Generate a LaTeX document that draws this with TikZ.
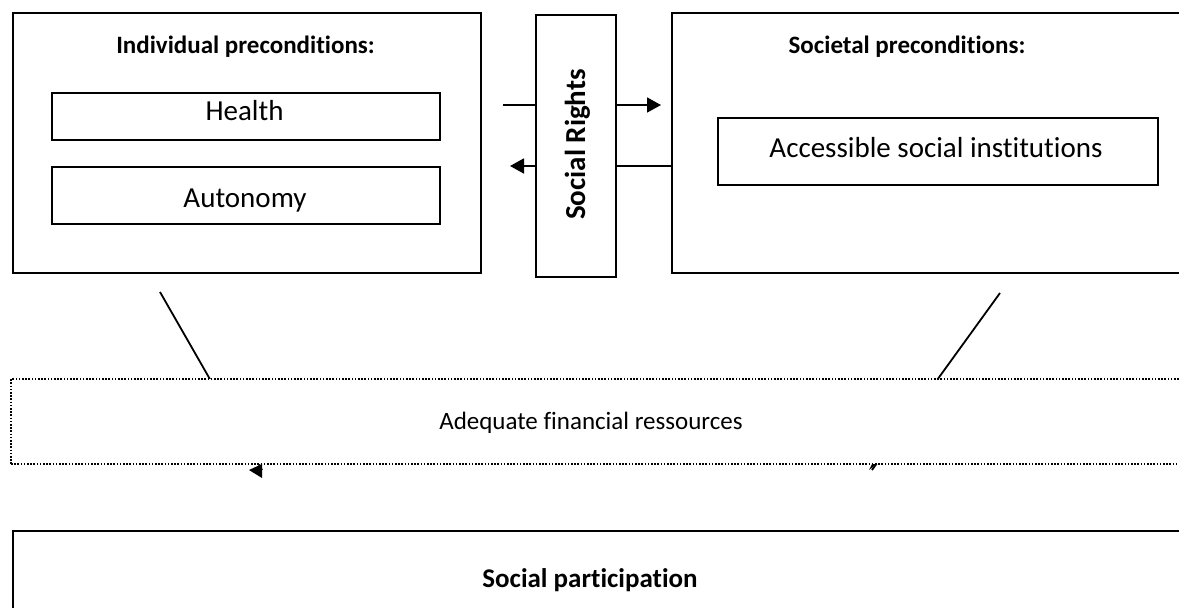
\documentclass[tikz,border=0pt]{standalone}
\usepackage{fontspec}
\setmainfont{Carlito}[Ligatures={NoCommon}]
\usetikzlibrary{arrows.meta}
\begin{document}
\begin{tikzpicture}[x=1pt,y=-1pt,
  box/.style={draw,line width=1.8pt,inner sep=0pt,fill=white},
  txt/.style={font=\fontsize{25}{30}\selectfont,inner sep=0pt,anchor=base},
  itxt/.style={font=\fontsize{29}{34}\selectfont,inner sep=0pt,anchor=base},
  btxt/.style={font=\fontsize{25}{30}\selectfont\bfseries,inner sep=0pt,anchor=base},
  dotbox/.style={draw,line width=1.6pt,dash pattern=on 1.6pt off 1.6pt,inner sep=0pt,fill=white},
  link/.style={line width=1.8pt},
  arr/.style={line width=1.8pt,-{Triangle[length=14pt,width=15pt]}}]
\useasboundingbox (0,0) rectangle (1179,608);
\clip (0,0) rectangle (1179,608);
\fill[white] (0,0) rectangle (1179,608);
% diagonal lines (behind dotted box)
\coordinate (d1a) at (160,292);
\coordinate (d1b) at (262,470);
\coordinate (d2a) at (1000,293);
\coordinate (d2b) at (872,470);
\draw[link] (d1a) -- (d1b);
\draw[link] (d2a) -- (d2b);
% big boxes
\node[box,minimum width=468pt,minimum height=260pt] (ind) at (247,143) {};
\node[box,minimum width=578pt,minimum height=260pt] (soc) at (961,143) {};
\node[box,minimum width=80pt,minimum height=262pt] (sr) at (576,146) {};
\node[font=\fontsize{29}{34}\selectfont\bfseries,inner sep=0pt,rotate=90,anchor=base west] (srt) at (585,220) {Social Rights};
\node[btxt] (indt) at (245.5,53) {Individual preconditions:};
\node[btxt] (soct) at (907,53) {Societal preconditions:};
\node[box,minimum width=388pt,minimum height=47pt] (health) at (246,116.5) {};
\node[itxt] (healtht) at (244.5,120) {Health};
\node[box,minimum width=388pt,minimum height=57pt] (auto) at (246,195.5) {};
\node[itxt] (autot) at (245,207) {Autonomy};
\node[box,minimum width=440pt,minimum height=67pt] (acc) at (938,151.5) {};
\node[itxt] (acct) at (936,157) {Accessible social institutions};
% dotted box
\node[dotbox,minimum width=1239pt,minimum height=85pt] (fin) at (630.5,421.5) {};
\node[txt] (fint) at (591,429) {Adequate financial ressources};
% small arrowheads poking out under the dotted box
\fill (249,470) -- (262,464) -- (262,478) -- cycle;
\fill (869,470) -- (877,464) -- (872,464) -- cycle;
% social participation
\node[box,minimum width=1237pt,minimum height=130pt] (part) at (631.5,596) {};
\node[font=\fontsize{27}{32}\selectfont\bfseries,inner sep=0pt,anchor=base] (partt) at (590,587) {Social participation};
% arrows through Social Rights
\coordinate (a1) at (503,105);
\coordinate (a2) at (661,105);
\coordinate (b2) at (510,166);
\draw[link] (a1) -- (a1 -| sr.west);
\draw[arr] (a1 -| sr.east) -- (a2);
\draw[link] (b2 -| soc.west) -- (b2 -| sr.east);
\draw[arr] (b2 -| sr.west) -- (b2);
\end{tikzpicture}
\end{document}
